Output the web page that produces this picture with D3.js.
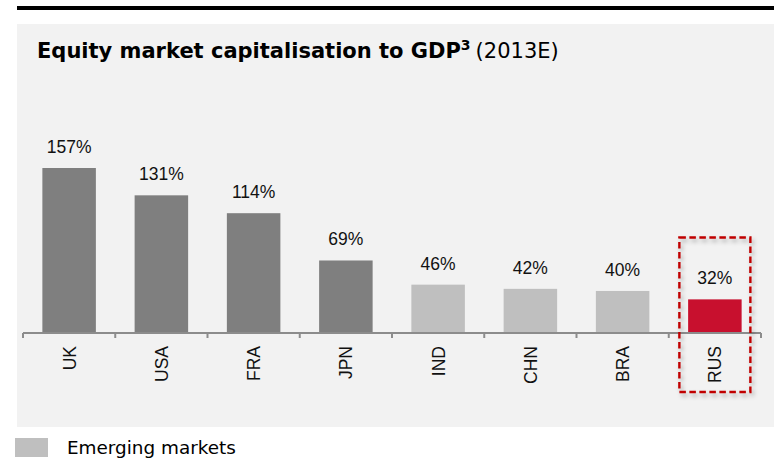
<!DOCTYPE html>
<html>
<head>
<meta charset="utf-8">
<script src="https://cdn.jsdelivr.net/npm/d3@7"></script>
<style>
  html, body { margin: 0; padding: 0; background: #ffffff; }
  svg { display: block; }
</style>
</head>
<body>
<svg id="chart" width="774" height="460"></svg>
<script>
// Equity market capitalisation as a share of GDP, 2013 estimates
const countries = ["UK", "USA", "FRA", "JPN", "IND", "CHN", "BRA", "RUS"];
const capToGdp = [157, 131, 114, 69, 46, 42, 40, 32];
const marketGroup = ["developed", "developed", "developed", "developed", "emerging", "emerging", "emerging", "focus"];
const highlighted = ["RUS"];
const legendLabels = ["Emerging markets"];

const groupColor = {
  developed: "#7f7f7f",
  emerging: "#bfbfbf",
  focus: "#c8102e"
};

const rows = countries.map((c, i) => ({ country: c, value: capToGdp[i], group: marketGroup[i] }));

const svg = d3.select("#chart");

// drop shadow used by the highlight frame
const defs = svg.append("defs");
const shadow = defs.append("filter").attr("id", "frameShadow")
  .attr("x", "-20%").attr("y", "-20%").attr("width", "140%").attr("height", "140%");
shadow.append("feDropShadow")
  .attr("dx", 2).attr("dy", 3).attr("stdDeviation", 2)
  .attr("flood-color", "#000").attr("flood-opacity", 0.3);

// heading rule and panel
svg.append("rect").attr("x", 17).attr("y", 6).attr("width", 757).attr("height", 4).attr("fill", "#000");
svg.append("rect").attr("x", 17).attr("y", 24).attr("width", 757).attr("height", 403).attr("fill", "#f2f2f2");

// title
const title = svg.append("text")
  .attr("x", 37).attr("y", 57.5)
  .attr("font-family", "DejaVu Sans, Verdana, sans-serif")
  .attr("font-size", 21)
  .attr("fill", "#000");
title.append("tspan").attr("font-weight", "bold").text("Equity market capitalisation to GDP");
title.append("tspan").attr("font-weight", "bold").attr("font-size", 14).attr("dy", -8).text("3");
title.append("tspan").attr("dy", 8).attr("dx", 5).text("(2013E)");

// scales
const axisY = 333;
const x = d3.scaleBand()
  .domain(countries)
  .range([23, 761])
  .paddingInner(0.42)
  .paddingOuter(0.21);

const y = d3.scaleLinear()
  .domain([0, 160])
  .range([axisY, axisY - 168.15]);

// bars
svg.append("g").selectAll("rect")
  .data(rows)
  .join("rect")
  .attr("x", d => x(d.country))
  .attr("width", x.bandwidth())
  .attr("y", d => y(d.value))
  .attr("height", d => y(0) - y(d.value))
  .attr("fill", d => groupColor[d.group]);

// value labels
svg.append("g").selectAll("text")
  .data(rows)
  .join("text")
  .attr("x", d => x(d.country) + x.bandwidth() / 2)
  .attr("y", d => y(d.value) - 15)
  .attr("text-anchor", "middle")
  .attr("font-family", "Liberation Sans, Arial, sans-serif")
  .attr("font-size", 17.5)
  .attr("fill", "#111")
  .text(d => d.value + "%");

// category axis with ticks at band boundaries
const step = x.step();
const half = step * x.paddingInner() / 2;
const boundaries = countries.map(c => x(c) - half).concat([x(countries[countries.length - 1]) + x.bandwidth() + half]);
const axis = svg.append("g");
axis.append("line")
  .attr("x1", boundaries[0]).attr("x2", boundaries[boundaries.length - 1])
  .attr("y1", axisY).attr("y2", axisY)
  .attr("stroke", "#8c8c8c").attr("stroke-width", 2);
axis.selectAll("line.tick")
  .data(boundaries)
  .join("line")
  .attr("class", "tick")
  .attr("x1", d => d).attr("x2", d => d)
  .attr("y1", axisY).attr("y2", axisY + 5)
  .attr("stroke", "#8c8c8c").attr("stroke-width", 2);

axis.selectAll("text")
  .data(countries)
  .join("text")
  .attr("transform", d => `translate(${x(d) + x.bandwidth() / 2 + 6.5},${axisY + 13}) rotate(-90)`)
  .attr("text-anchor", "end")
  .attr("font-family", "Liberation Sans, Arial, sans-serif")
  .attr("font-size", 17.5)
  .attr("fill", "#111")
  .text(d => d);

// dashed frame around the highlighted country
highlighted.forEach(c => {
  const cx = x(c) + x.bandwidth() / 2;
  svg.append("rect")
    .attr("x", cx - 35.5).attr("y", 237.5)
    .attr("width", 71).attr("height", 154.5)
    .attr("fill", "none")
    .attr("stroke", "#c00000")
    .attr("stroke-width", 2.4)
    .attr("stroke-dasharray", "6.5,3.5")
    .attr("filter", "url(#frameShadow)");
});

// legend
const legend = svg.append("g");
legendLabels.forEach((label, i) => {
  legend.append("rect")
    .attr("x", 15).attr("y", 438).attr("width", 33).attr("height", 19)
    .attr("fill", groupColor.emerging);
  legend.append("text")
    .attr("x", 67).attr("y", 453.5)
    .attr("font-family", "DejaVu Sans, Verdana, sans-serif")
    .attr("font-size", 18.4)
    .attr("fill", "#000")
    .text(label);
});
</script>
</body>
</html>
